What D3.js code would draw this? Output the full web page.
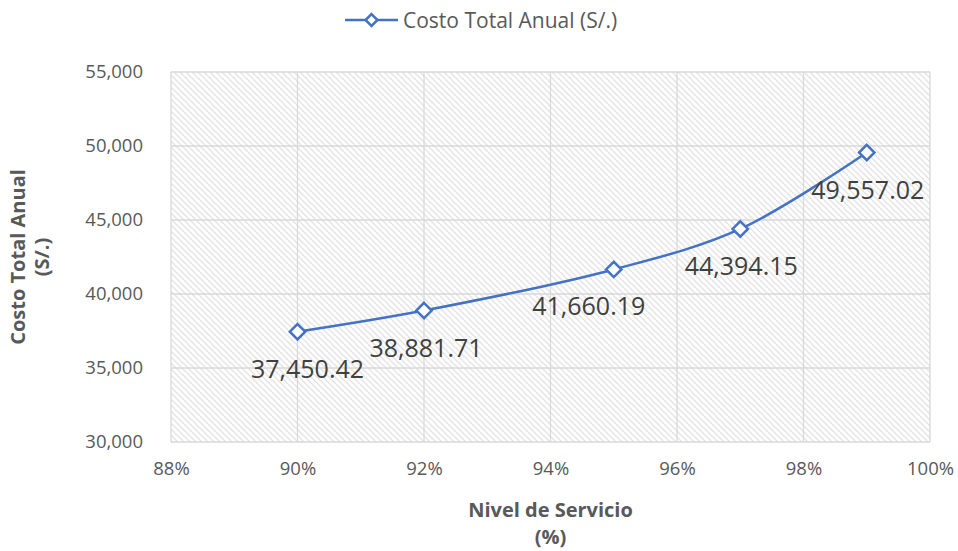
<!DOCTYPE html>
<html>
<head>
<meta charset="utf-8">
<script src="https://cdn.jsdelivr.net/npm/d3@7"></script>
<style>
  html, body { margin: 0; padding: 0; background: #fff; }
  svg { display: block; font-family: "Open Sans", "Noto Sans", sans-serif; }
</style>
</head>
<body>
<svg id="chart" width="958" height="551"></svg>
<script>
// Service level (fraction) vs. total annual cost in soles
const serviceLevels = [0.90, 0.92, 0.95, 0.97, 0.99];
const annualCost = [37450.42, 38881.71, 41660.19, 44394.15, 49557.02];
const xTicks = [0.88, 0.90, 0.92, 0.94, 0.96, 0.98, 1.00];
const yTicks = [30000, 35000, 40000, 45000, 50000, 55000];
const seriesName = "Costo Total Anual (S/.)";
const xTitle = ["Nivel de Servicio", "(%)"];
const yTitle = ["Costo Total Anual", "(S/.)"];
// horizontal nudge for each data label, to keep them clear of the line
const labelNudge = [10, 2, -25, 1, 1];

const svg = d3.select("#chart");
const margin = { left: 171, right: 28, top: 72, bottom: 109 };
const W = 958, H = 551;

const x = d3.scaleLinear().domain([0.88, 1.00]).range([margin.left, W - margin.right]);
const y = d3.scaleLinear().domain([30000, 55000]).range([H - margin.bottom, margin.top]);

const textColor = "#595959";
const gridColor = "#d9d9d9";
const lineColor = "#4472c4";

// diagonal hatch fill for the plot area
const defs = svg.append("defs");
const pat = defs.append("pattern")
  .attr("id", "hatch")
  .attr("patternUnits", "userSpaceOnUse")
  .attr("width", 6).attr("height", 6);
pat.append("rect").attr("width", 6).attr("height", 6).attr("fill", "#fff");
pat.append("path")
  .attr("d", "M-1,-1 L7,7 M-1,5 L1,7 M5,-1 L7,1")
  .attr("stroke", "#e4e4e4").attr("stroke-width", 1.4);

svg.append("rect")
  .attr("x", x.range()[0]).attr("y", y.range()[1])
  .attr("width", x.range()[1] - x.range()[0])
  .attr("height", y.range()[0] - y.range()[1])
  .attr("fill", "url(#hatch)");

// gridlines
const grid = svg.append("g").attr("stroke", gridColor).attr("stroke-width", 1.3);
grid.selectAll(".gx").data(xTicks).join("line")
  .attr("x1", d => x(d)).attr("x2", d => x(d))
  .attr("y1", y.range()[0]).attr("y2", y.range()[1]);
grid.selectAll(".gy").data(yTicks).join("line")
  .attr("x1", x.range()[0]).attr("x2", x.range()[1])
  .attr("y1", d => y(d)).attr("y2", d => y(d));

// axes (labels only)
const xAxis = d3.axisBottom(x).tickValues(xTicks).tickSize(0).tickPadding(20)
  .tickFormat(d3.format(".0%"));
const yAxis = d3.axisLeft(y).tickValues(yTicks).tickSize(0).tickPadding(28)
  .tickFormat(d3.format(","));

const gx = svg.append("g").attr("transform", `translate(0,${y.range()[0]})`).call(xAxis);
const gy = svg.append("g").attr("transform", `translate(${x.range()[0]},0)`).call(yAxis);
[gx, gy].forEach(g => {
  g.select(".domain").remove();
  g.selectAll("text").attr("fill", textColor).attr("font-size", 18.5)
    .attr("font-family", "'Open Sans', sans-serif");
});

// series line (smoothed)
const pts = serviceLevels.map((s, i) => [x(s), y(annualCost[i])]);
svg.append("path")
  .attr("d", d3.line().curve(d3.curveCatmullRom.alpha(0.5))(pts))
  .attr("fill", "none").attr("stroke", lineColor).attr("stroke-width", 2.5);

// diamond markers
const diamond = d3.symbol().type(d3.symbolDiamond2).size(150);
svg.selectAll(".mk").data(pts).join("path")
  .attr("transform", d => `translate(${d[0]},${d[1]})`)
  .attr("d", diamond)
  .attr("fill", "#fff").attr("stroke", lineColor).attr("stroke-width", 2.5);

// data labels
const fmt = d3.format(",.2f");
svg.selectAll(".lbl").data(annualCost).join("text")
  .attr("x", (d, i) => x(serviceLevels[i]) + labelNudge[i])
  .attr("y", d => y(d) + 46)
  .attr("text-anchor", "middle")
  .attr("fill", "#404040").attr("font-size", 25)
  .text(d => fmt(d));

// legend
const lg = svg.append("g").attr("transform", "translate(345,20)");
lg.append("line").attr("x1", 0).attr("x2", 53).attr("y1", 0).attr("y2", 0)
  .attr("stroke", lineColor).attr("stroke-width", 2.5);
lg.append("path").attr("transform", "translate(26.5,0)")
  .attr("d", d3.symbol().type(d3.symbolDiamond2).size(90))
  .attr("fill", "#fff").attr("stroke", lineColor).attr("stroke-width", 2.5);
lg.append("text").attr("x", 58).attr("y", 7.5)
  .attr("fill", textColor).attr("font-size", 21).text(seriesName);

// axis titles
svg.append("text")
  .attr("x", (x.range()[0] + x.range()[1]) / 2).attr("y", 517)
  .attr("text-anchor", "middle").attr("font-weight", "bold")
  .attr("fill", textColor).attr("font-size", 20)
  .selectAll("tspan").data(xTitle).join("tspan")
  .attr("x", (x.range()[0] + x.range()[1]) / 2)
  .attr("dy", (d, i) => i ? 27 : 0)
  .text(d => d);

svg.append("text")
  .attr("transform", `translate(25,${(y.range()[0] + y.range()[1]) / 2}) rotate(-90)`)
  .attr("text-anchor", "middle").attr("font-weight", "bold")
  .attr("fill", textColor).attr("font-size", 20)
  .selectAll("tspan").data(yTitle).join("tspan")
  .attr("x", 0)
  .attr("dy", (d, i) => i ? 24 : 0)
  .text(d => d);
</script>
</body>
</html>
